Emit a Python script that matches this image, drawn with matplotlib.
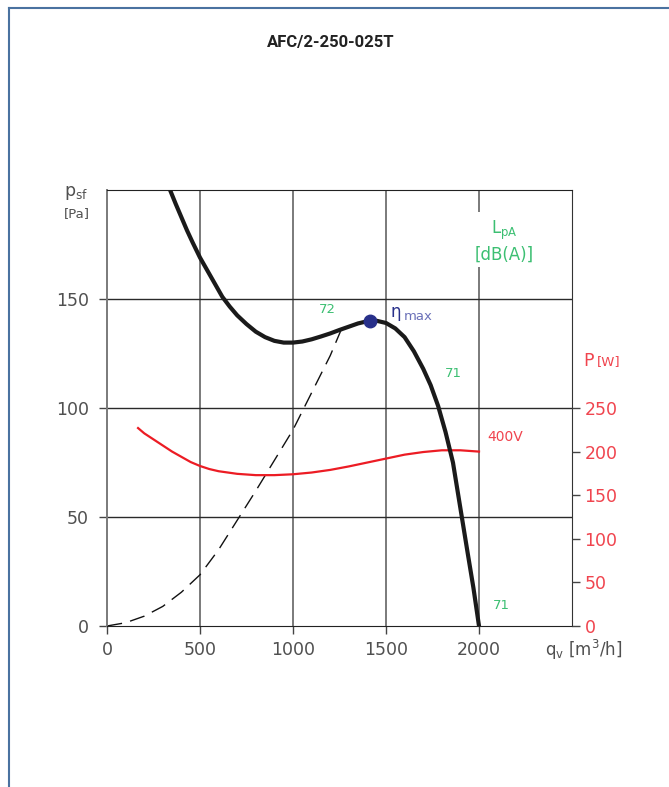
import matplotlib.pyplot as plt
from matplotlib.lines import Line2D

# fan curve p_sf [Pa] vs q_v [m3/h]
fan_q = [339, 370, 400, 430, 460, 500, 540, 580, 620, 660, 700, 750, 800, 850,
         900, 950, 1000, 1050, 1100, 1150, 1200, 1250, 1300, 1350, 1400, 1450,
         1500, 1550, 1600, 1650, 1700, 1740, 1780, 1820, 1860, 1900, 1940, 1970, 2000]
fan_p = [200, 193.5, 187.5, 181.5, 176, 169, 163, 157, 151, 146.5, 142.5, 138.5,
         135, 132.5, 130.8, 130, 130, 130.5, 131.5, 132.8, 134.2, 135.8, 137.3,
         138.8, 139.8, 140, 139, 136.5, 132.5, 126, 118, 110.5, 101, 89, 75, 54,
         33, 17.5, 0]

# system curve (dashed)
sys_q = [0, 100, 200, 300, 400, 500, 600, 700, 800, 900, 1000, 1100, 1200, 1262]
sys_p = [0, 1.5, 4.5, 9, 15.5, 23.5, 35, 48.5, 62, 76, 90, 107, 124, 136.5]

# power [W] on right axis
pow_q = [167, 200, 250, 300, 350, 400, 450, 500, 550, 600, 700, 800, 900, 1000,
         1100, 1200, 1300, 1400, 1500, 1600, 1700, 1800, 1900, 2000]
pow_w = [227, 221, 214, 207, 200, 194, 188, 183.5, 180, 177.5, 174.5, 173, 173,
         174, 176, 179, 183, 187.5, 192, 196.5, 199.5, 201.5, 201.5, 200]

eta_q, eta_p = 1414, 140

x_ticks = [0, 500, 1000, 1500, 2000]
y_ticks = [0, 50, 100, 150]
w_ticks = [0, 50, 100, 150, 200, 250]

GREEN = '#3cbf72'
RED = '#ec1c24'
RED_TXT = '#f0444e'
GREY = '#505050'

plt.rcParams['font.family'] = ['DejaVu Sans']

fig = plt.figure(figsize=(6.69, 7.87), dpi=100)
ax = fig.add_axes([107/669, 1-626/787, 465/669, 436/787])
ax.set_xlim(0, 2500)
ax.set_ylim(0, 200)

for x in [500, 1000, 1500, 2000]:
    ax.axvline(x, color='#7a7a7a', lw=1.4, zorder=1)
for y in [50, 100, 150]:
    ax.axhline(y, color='#2a2a2a', lw=1.0, zorder=1)

ax.plot(sys_q, sys_p, color='#111111', lw=1.0, dashes=(11, 6), zorder=2)
ax.plot(pow_q, [w / 2.5 for w in pow_w], color=RED, lw=1.6, zorder=3)
ax.plot(fan_q, fan_p, color='#1a1a1a', lw=3.0, zorder=4, solid_joinstyle='round')
ax.plot([eta_q], [eta_p], 'o', color='#28308a', ms=9, zorder=5)

ax.set_xticks(x_ticks)
ax.set_yticks(y_ticks)
ax.tick_params(axis='both', direction='out', length=6, width=1, colors='#444444',
               labelsize=12.5, labelcolor=GREY)
ax.tick_params(axis='x', pad=5)
ax.tick_params(axis='y', pad=7)

ax.spines['left'].set_color('#7a7a7a')
ax.spines['left'].set_linewidth(1.4)
ax.spines['bottom'].set_color('#222222')
ax.spines['top'].set_color('#222222')
ax.spines['right'].set_color('#333333')

ax2 = ax.twinx()
ax2.set_ylim(0, 500)
ax2.set_yticks(w_ticks)
ax2.tick_params(axis='y', direction='out', length=6, width=1, colors='#444444',
                labelsize=12.5, labelcolor=RED_TXT, pad=3)
for s in ax2.spines.values():
    s.set_visible(False)

# annotations
ax.text(1183, 145, '72', color=GREEN, fontsize=9.5, ha='center', va='center')
ax.text(1860, 116, '71', color=GREEN, fontsize=9.5, ha='center', va='center')
ax.text(2118, 9.6, '71', color=GREEN, fontsize=9.5, ha='center', va='center')
ax.text(2134, 176.5, 'L$_{\\mathregular{pA}}$\n[dB(A)]', color=GREEN, fontsize=12,
        ha='center', va='center', linespacing=1.3, zorder=6,
        bbox=dict(facecolor='white', edgecolor='none', pad=2))
ax.text(2043, 86.7, '400V', color=RED_TXT, fontsize=10, ha='left', va='center')
ax.text(1522, 144, 'η', color='#28308a', fontsize=12, ha='left', va='center')
ax.text(1597, 141.8, 'max', color='#6a70b8', fontsize=9.5, ha='left', va='center')

fig.text(583/669, 1-361/787, 'P', color=RED_TXT, fontsize=12.5, ha='left', va='center')
fig.text(597/669, 1-362/787, '[W]', color=RED_TXT, fontsize=9.5, ha='left', va='center')
fig.text(64/669, 1-193/787, r'p$_{\mathregular{sf}}$', color=GREY, fontsize=12.5,
         ha='left', va='center')
fig.text(64/669, 1-214/787, '[Pa]', color=GREY, fontsize=9.5, ha='left', va='center')
fig.text(545/669, 1-650/787, r'q$_{\mathregular{v}}$ [m$^{\mathregular{3}}$/h]',
         color=GREY, fontsize=12, ha='left', va='center')

fig.text(331/669, 1-43/787, 'AFC/2-250-025T', color='#222222', fontsize=12,
         fontweight='bold', ha='center', va='center', family='Roboto')

# page frame
fig.add_artist(Line2D([9/669, 1], [1-8/787, 1-8/787], color='#4a72a0', lw=1.5))
fig.add_artist(Line2D([9/669, 9/669], [0, 1-8/787], color='#4a72a0', lw=1.5))

fig.savefig('out.png', dpi=100)
